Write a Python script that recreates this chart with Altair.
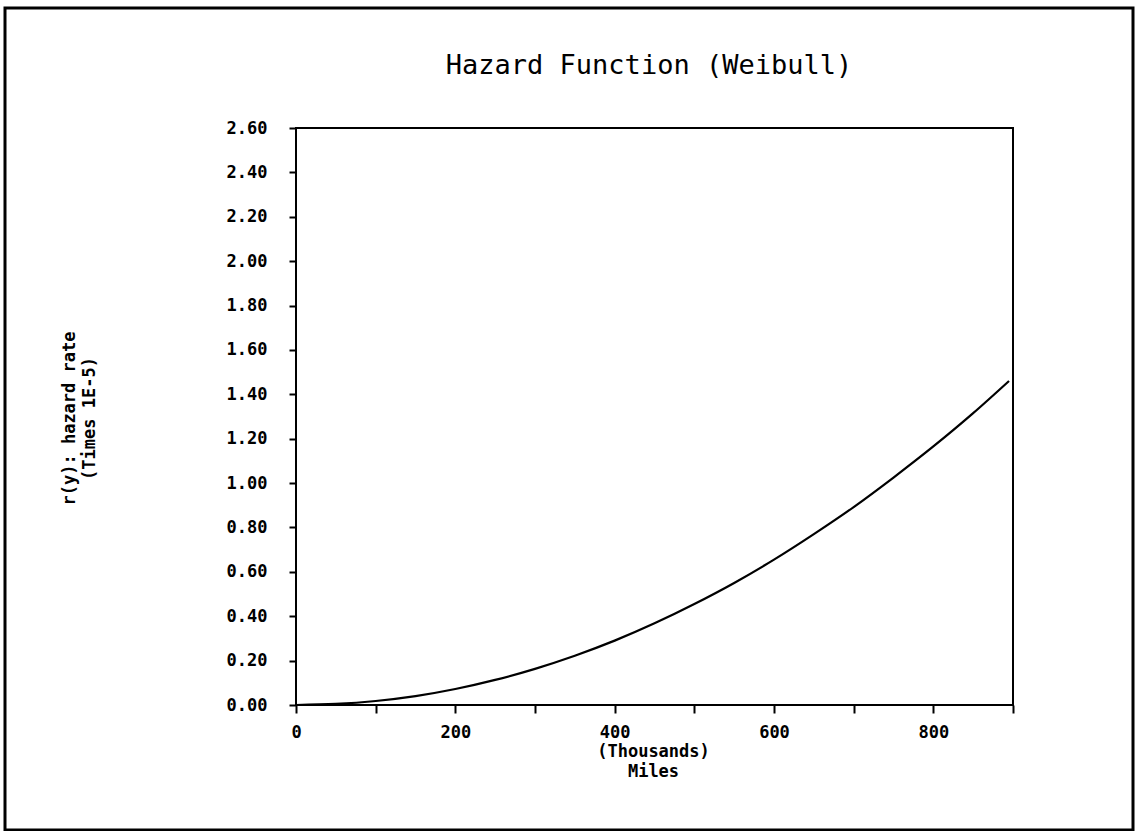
import altair as alt
import pandas as pd

# Data
miles = [0, 50, 100, 150, 200, 250, 300, 350, 400, 450, 500, 550, 600, 650, 700, 750, 800, 850, 895]
rate = [0.0, 0.005, 0.018, 0.040, 0.072, 0.113, 0.163, 0.222, 0.290, 0.368, 0.455, 0.550,
        0.655, 0.770, 0.892, 1.025, 1.165, 1.315, 1.460]

x_ticks = [0, 100, 200, 300, 400, 500, 600, 700, 800, 900]
y_ticks = [0.0, 0.2, 0.4, 0.6, 0.8, 1.0, 1.2, 1.4, 1.6, 1.8, 2.0, 2.2, 2.4, 2.6]

title_text = "Hazard Function (Weibull)"
x_title = ["(Thousands)", "Miles"]
y_title = ["r(y): hazard rate", "(Times 1E-5)"]

df = pd.DataFrame({"miles": miles, "rate": rate})

FONT = "DejaVu Sans Mono"

line = alt.Chart(df).mark_line(color="black", strokeWidth=2.2, interpolate="monotone").encode(
    x=alt.X(
        "miles:Q",
        scale=alt.Scale(domain=[0, 900], nice=False, zero=False),
        axis=alt.Axis(
            values=x_ticks,
            labelExpr="datum.value % 200 == 0 ? datum.label : ''",
            format="d",
            labelFlush=False,
            title=x_title,
            titleX=357,
            titleY=46,
            titleBaseline="middle",
            titleLineHeight=20,
            titleAlign="center",
            titleAnchor="middle",
            grid=False,
            domain=False,
            tickSize=8,
            tickWidth=2,
            tickColor="black",
            labelPadding=11,
            labelFont=FONT,
            labelFontWeight="bold",
            labelFontSize=17,
            labelColor="black",
            titleFont=FONT,
            titleFontWeight="bold",
            titleFontSize=17,
            titleColor="black",
        ),
    ),
    y=alt.Y(
        "rate:Q",
        scale=alt.Scale(domain=[0, 2.6], nice=False, zero=False),
        axis=alt.Axis(
            values=y_ticks,
            format=".2f",
            title=y_title,
            titleAngle=270,
            titleX=-227,
            titleY=290,
            titleBaseline="middle",
            titleAlign="center",
            titleLineHeight=20,
            grid=False,
            domain=False,
            tickSize=7,
            tickWidth=2,
            tickColor="black",
            labelPadding=22,
            labelFont=FONT,
            labelFontWeight="bold",
            labelFontSize=17,
            labelColor="black",
            titleFont=FONT,
            titleFontWeight="bold",
            titleFontSize=17,
            titleColor="black",
        ),
    ),
)

one = pd.DataFrame({"t": [title_text]})

border = alt.Chart(one).mark_rect(
    filled=False, stroke="black", strokeWidth=3
).encode(
    x=alt.value(-291), x2=alt.value(837), y=alt.value(-120), y2=alt.value(702)
)

title = alt.Chart(one).mark_text(
    font=FONT, fontSize=27, color="black", align="center", baseline="middle"
).encode(
    x=alt.value(353), y=alt.value(-62), text="t:N"
)

chart = alt.layer(border, title, line).properties(
    width=717,
    height=577,
    autosize=alt.AutoSizeParams(type="none"),
    padding={"left": 296, "top": 128, "right": 123, "bottom": 126},
).configure_view(stroke="black", strokeWidth=2)

chart.save("out.html", embed_options={"renderer": "svg", "actions": False})
